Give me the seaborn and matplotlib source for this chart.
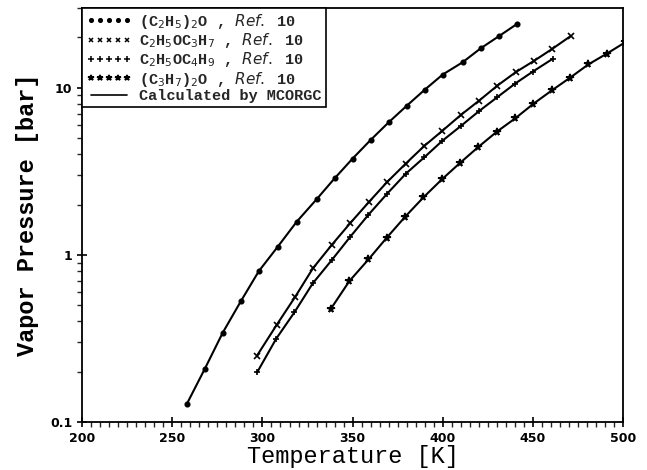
import numpy as np
import pandas as pd
import matplotlib
matplotlib.use("Agg")
import matplotlib.pyplot as plt
import seaborn as sns
from matplotlib.lines import Line2D
from matplotlib.ticker import FixedLocator, MultipleLocator, NullFormatter

sns.set_theme(style="white")
plt.rcParams['font.family'] = ['DejaVu Sans']

# ---- data ----
t_diethyl = [258, 268, 278, 288, 298, 308.5, 319, 330, 340, 350, 360, 370, 380, 390, 400, 411, 421, 431, 441]
p_diethyl = [0.128, 0.208, 0.343, 0.528, 0.80, 1.12, 1.58, 2.15, 2.87, 3.77, 4.87, 6.21, 7.80, 9.73, 12.0, 14.2, 17.2, 20.3, 24.0]

t_ethprop = [297, 308, 318, 328, 338.5, 348.7, 359, 369, 379.5, 389.7, 399.8, 410, 420.2, 430.3, 440.5, 450.7, 460.8, 471]
p_ethprop = [0.25, 0.383, 0.558, 0.832, 1.15, 1.55, 2.07, 2.72, 3.52, 4.48, 5.53, 6.87, 8.38, 10.3, 12.4, 14.5, 17.1, 20.4]

t_ethbut = [297, 307.6, 317.7, 327.9, 338.5, 348.6, 358.8, 369.1, 379.5, 389.7, 399.8, 410, 420.2, 430.3, 440.2, 450, 461]
p_ethbut = [0.198, 0.315, 0.453, 0.676, 0.933, 1.28, 1.74, 2.32, 3.06, 3.83, 4.82, 5.90, 7.26, 8.79, 10.6, 12.5, 14.9]

t_diprop = [338, 348.2, 358.8, 369, 379.1, 389.3, 399.5, 409.7, 419.8, 430, 440.2, 450.3, 460.5, 470.7, 480.8, 491, 501.2]
p_diprop = [0.477, 0.697, 0.94, 1.27, 1.69, 2.21, 2.83, 3.56, 4.43, 5.46, 6.56, 8.02, 9.64, 11.5, 13.8, 16.0, 18.7]

labels = [r"(C$_2$H$_5$)$_2$O , $\mathit{Ref.}$ 10",
          r"C$_2$H$_5$OC$_3$H$_7$ , $\mathit{Ref.}$ 10",
          r"C$_2$H$_5$OC$_4$H$_9$ , $\mathit{Ref.}$ 10",
          r"(C$_3$H$_7$)$_2$O , $\mathit{Ref.}$ 10"]
calc_label = "Calculated by MCORGC"
markers = ["o", "x", "+", "*"]
msizes = [3.2, 4.2, 5, 5.5]

x_ticks = [200, 250, 300, 350, 400, 450, 500]
y_ticks = [0.1, 1, 10]
y_ticklabels = ["0.1", "1", "10"]

series = [(t_diethyl, p_diethyl), (t_ethprop, p_ethprop), (t_ethbut, p_ethbut), (t_diprop, p_diprop)]

frames = []
for i, (t, p) in enumerate(series):
    frames.append(pd.DataFrame({"T": t, "P": p, "compound": labels[i]}))
df = pd.concat(frames, ignore_index=True)

fig = plt.figure(figsize=(6.47, 4.70), dpi=100)
ax = fig.add_axes([0.127, 0.102, 0.836, 0.881])

for i, lab in enumerate(labels):
    sub = df[df["compound"] == lab]
    sns.lineplot(data=sub, x="T", y="P", ax=ax, color="black", lw=1.5,
                 sort=True, estimator=None, legend=False)
    ax.plot(sub["T"], sub["P"], ls="none", marker=markers[i], ms=msizes[i],
            color="black", mew=1.2)

ax.set_yscale("log")
ax.set_xlim(200, 500)
ax.set_ylim(0.1, 30)

ax.xaxis.set_major_locator(FixedLocator(x_ticks))
ax.xaxis.set_minor_locator(MultipleLocator(5))
ax.set_xticklabels([str(v) for v in x_ticks])
ax.yaxis.set_major_locator(FixedLocator(y_ticks))
ax.set_yticklabels(y_ticklabels)
ax.yaxis.set_minor_locator(matplotlib.ticker.LogLocator(base=10, subs=np.arange(2, 10)))
ax.yaxis.set_minor_formatter(NullFormatter())

ax.tick_params(axis="both", which="major", direction="inout", length=7, width=1.2,
               labelsize=9, colors="black", bottom=True, left=True, top=False, right=False)
ax.tick_params(axis="both", which="minor", direction="out", length=3.5, width=1.0,
               bottom=True, left=True, top=False, right=False)
for lab in ax.get_xticklabels() + ax.get_yticklabels():
    lab.set_fontweight("bold")

for s in ax.spines.values():
    s.set_color("black")
    s.set_linewidth(1.3)

ax.set_xlabel("Temperature [K]", family="Liberation Mono", fontsize=17, labelpad=0, color="black")
ax.set_ylabel("Vapor Pressure [bar]", family="Liberation Mono", fontsize=17, fontweight="bold", labelpad=8, color="black")

handles = [Line2D([], [], ls="none", marker=markers[i], ms=msizes[i] * 0.8, color="black", mew=1.1)
           for i in range(4)]
handles.append(Line2D([], [], color="black", lw=1.2))
leg = ax.legend(handles, labels + [calc_label], loc="upper left", numpoints=5,
                fancybox=False, framealpha=1, edgecolor="black", borderaxespad=0.0,
                handlelength=3.0, handletextpad=0.5, labelspacing=0.02,
                borderpad=0.25, prop={"family": "Liberation Mono", "weight": "bold", "size": 11})
leg.get_frame().set_linewidth(1.2)

fig.savefig("out.png", dpi=100)
